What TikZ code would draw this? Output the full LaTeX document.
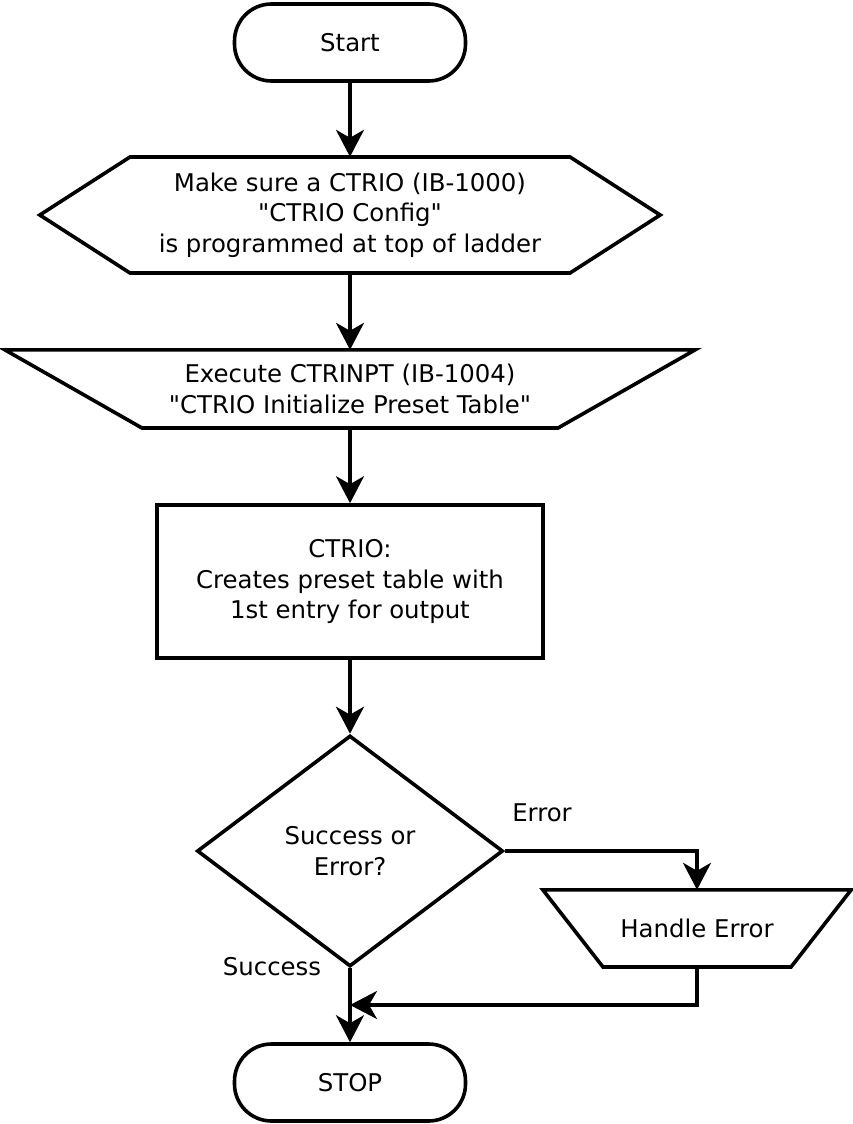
\documentclass[tikz,border=0pt]{standalone}
\usepackage{fontspec}
\setmainfont{DejaVu Sans}
\usetikzlibrary{arrows.meta,shapes.geometric}
\begin{document}
\begin{tikzpicture}[x=1pt,y=-1pt,
  every node/.style={font=\fontsize{24.4}{30.5}\selectfont, align=center, inner sep=0pt},
  outline/.style={line width=3.6pt, line join=miter},
  arr/.style={line width=3.3pt, -{Stealth[length=27pt,width=28pt,inset=8pt]}},
  term/.style={draw, line width=3.6pt, rounded corners=37pt, minimum width=231pt, minimum height=77pt},
]
\useasboundingbox (0,0) rectangle (853,1124);

% Start
\node[term] (start) at (350,42.5) {Start};

% Hexagon
\node[minimum width=620pt, minimum height=116pt] (hex) at (350,215) {Make sure a CTRIO (IB-1000)\\\textquotedbl CTRIO Config\textquotedbl\\is programmed at top of ladder};
\draw[outline] (hex.west) -- (130,157) -- (570,157) -- (hex.east) -- (570,273) -- (130,273) -- cycle;

% Manual operation trapezoid
\node[minimum width=690pt, minimum height=78pt] (exe) at (350,389) {Execute CTRINPT (IB-1004)\\\textquotedbl CTRIO Initialize Preset Table\textquotedbl};
\draw[outline] (exe.north west) -- (exe.north east) -- (558,428) -- (142,428) -- cycle;

% Process
\node[draw, line width=3.6pt, minimum width=386pt, minimum height=153pt] (proc) at (350,581.5) {CTRIO:\\Creates preset table with\\1st entry for output};

% Decision
\node[diamond, draw, line width=3.6pt, minimum width=306pt, minimum height=231pt] (dec) at (350,851) {Success or\\Error?};

% Handle error
\node[minimum width=308pt, minimum height=77pt] (he) at (697,928.5) {Handle Error};
\draw[outline] (he.north west) -- (he.north east) -- (791,967) -- (603,967) -- cycle;

% Stop
\node[term] (stop) at (350,1082.5) {STOP};

\coordinate (merge) at (350,1005);

% Connectors
\draw[arr] (start.south) -- (hex.north);
\draw[arr] (hex.south) -- (exe.north);
\draw[arr] (exe.south) -- (proc.north);
\draw[arr] (proc.south) -- (dec.north);
\draw[arr] (dec.east) -| (he.north);
\draw[arr] (he.south) |- (merge);
\draw[arr] (dec.south) -- (stop.north);

% Labels
\node (lerr) at (542,813) {Error};
\node (lsuc) at (272,967) {Success};
\end{tikzpicture}
\end{document}
